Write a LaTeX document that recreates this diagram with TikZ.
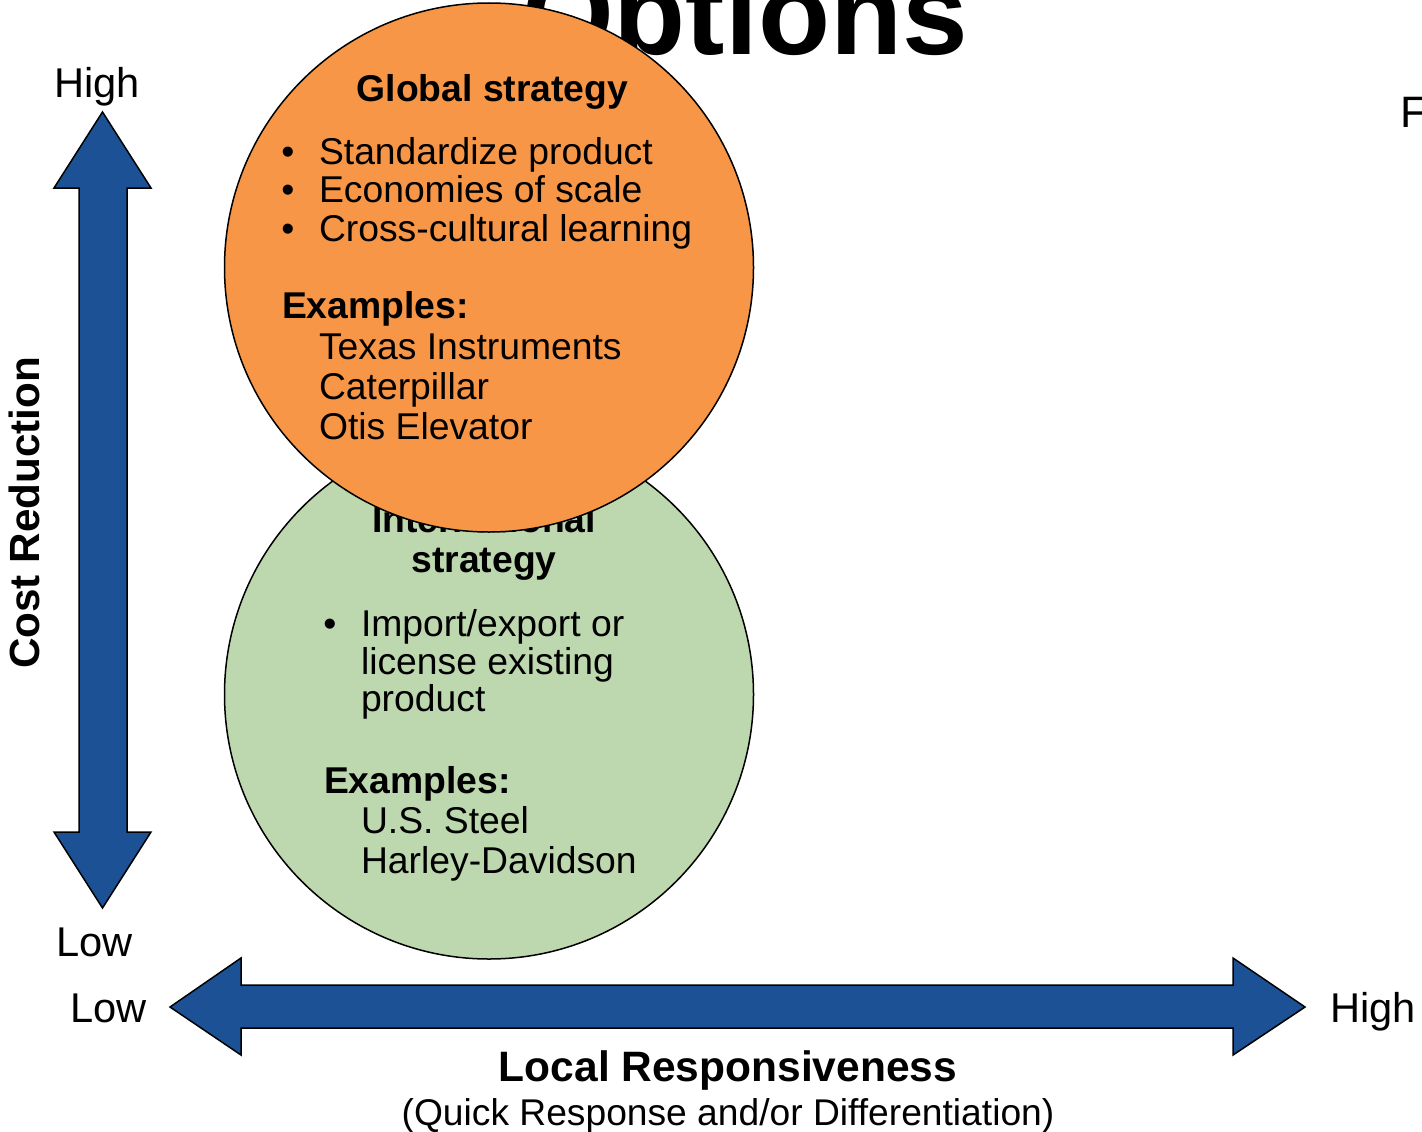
\documentclass[tikz,border=0pt]{standalone}
\usepackage{fontspec}
\setmainfont{Liberation Sans}
\definecolor{orangefill}{HTML}{F79646}
\definecolor{greenfill}{HTML}{BDD7AE}
\definecolor{arrowblue}{HTML}{1C5295}
\tikzset{
  circ/.style={circle, draw=black, line width=1.5pt, inner sep=0pt, outer sep=0pt, minimum size=529pt},
  bigarrow/.style={draw=black, line width=1.5pt, fill=arrowblue, line join=miter},
  txt/.style={inner sep=0pt, outer sep=0pt, anchor=base west, font=\fontsize{37.3}{38}\selectfont},
  btxt/.style={txt, font=\fontsize{37.3}{38}\selectfont\bfseries},
  lbl/.style={inner sep=0pt, outer sep=0pt, anchor=base west, font=\fontsize{41.6}{42}\selectfont},
  bullet/.style={inner sep=0pt, outer sep=0pt, anchor=base, font=\fontsize{37.3}{38}\selectfont},
}
\begin{document}
\begin{tikzpicture}[x=1pt,y=-1pt]
\useasboundingbox (0,0) rectangle (1422,1132);
\begin{scope}
\clip (0,0) rectangle (1422,1132);
% title (partly hidden)
\node (title) [inner sep=0pt, anchor=base east, font=\fontsize{118}{120}\selectfont\bfseries] at (968,55) {Options};
\node (fword) [lbl, font=\fontsize{44}{45}\selectfont] at (1400,127) {F};
% green circle
\node (intl) [circ, fill=greenfill] at (489,694.5) {};
\node (intlA) [btxt, anchor=base] at (484,532) {International};
\node (intlB) [btxt, anchor=base] at (484,572) {strategy};
\node (ib1) [bullet] at (330,636) {\textbullet};
\node (i1) [txt] at (361,636) {Import/export or};
\node (i2) [txt] at (361,674) {license existing};
\node (i3) [txt] at (361,711) {product};
\node (iex) [btxt] at (324,793) {Examples:};
\node (ie1) [txt] at (361,833) {U.S. Steel};
\node (ie2) [txt] at (361,873) {Harley-Davidson};
% orange circle
\node (glob) [circ, fill=orangefill] at (489,267.5) {};
\node (globT) [btxt, anchor=base] at (492.5,102) {Global strategy};
\node (gb1) [bullet] at (288,164) {\textbullet};
\node (gb2) [bullet] at (288,202.5) {\textbullet};
\node (gb3) [bullet] at (288,241) {\textbullet};
\node (g1) [txt] at (319,164) {Standardize product};
\node (g2) [txt] at (319,202.5) {Economies of scale};
\node (g3) [txt] at (319,241) {Cross-cultural learning};
\node (gex) [btxt] at (282,318) {Examples:};
\node (ge1) [txt] at (319,359) {Texas Instruments};
\node (ge2) [txt] at (319,399) {Caterpillar};
\node (ge3) [txt] at (319,439) {Otis Elevator};
% vertical arrow
\coordinate (vtop) at (102.5,112);
\coordinate (vbot) at (102.5,908);
\draw[bigarrow] (vtop) -- (151,188) -- (127,188) -- (127,832) -- (151,832) -- (vbot)
  -- (54,832) -- (79,832) -- (79,188) -- (54,188) -- cycle;
% horizontal arrow
\coordinate (hleft) at (170,1007);
\coordinate (hright) at (1305,1007);
\draw[bigarrow] (hleft) -- (241,958) -- (241,985) -- (1233,985) -- (1233,958) -- (hright)
  -- (1233,1055) -- (1233,1028) -- (241,1028) -- (241,1055) -- cycle;
% axis labels
\node (vhigh) [lbl] at (54,98) {High};
\node (vlow) [lbl] at (56,956) {Low};
\node (hlow) [lbl] at (70,1022) {Low};
\node (hhigh) [lbl] at (1330,1022) {High};
\node (ylab) [inner sep=0pt, anchor=base, rotate=90, font=\fontsize{42.2}{43}\selectfont\bfseries] at (39,513) {Cost Reduction};
\node (xlab) [inner sep=0pt, anchor=base, font=\fontsize{42.5}{43}\selectfont\bfseries] at (728,1081) {Local Responsiveness};
\node (xsub) [inner sep=0pt, anchor=base, font=\fontsize{37.2}{38}\selectfont] at (728,1125) {(Quick Response and/or Differentiation)};
\end{scope}
\end{tikzpicture}
\end{document}
